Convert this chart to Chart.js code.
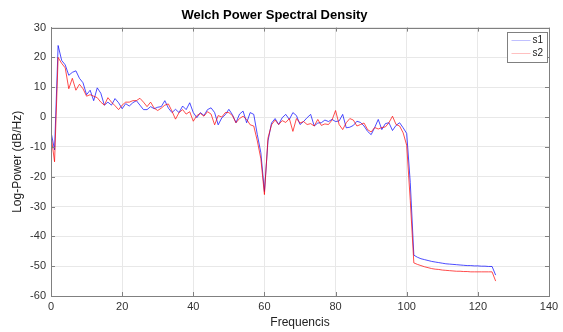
<!DOCTYPE html>
<html>
<head>
<meta charset="utf-8">
<script src="https://cdn.jsdelivr.net/npm/chart.js@4.4.0/dist/chart.umd.min.js"></script>
<style>
  html, body { margin: 0; padding: 0; background: #fff; }
  #wrap { width: 563px; height: 332px; }
</style>
</head>
<body>
<div id="wrap"><canvas id="mycanvas" width="563" height="332"></canvas></div>
<script>
// frequencies (Hz)
var freqs = [0,1,2,3,4,5,6,7,8,9,10,11,12,13,14,15,16,17,18,19,20,21,22,23,24,25,26,27,28,29,
  30,31,32,33,34,35,36,37,38,39,40,41,42,43,44,45,46,47,48,49,50,51,52,53,54,55,56,57,58,59,
  60,61,62,63,64,65,66,67,68,69,70,71,72,73,74,75,76,77,78,79,80,81,82,83,84,85,86,87,88,89,
  90,91,92,93,94,95,96,97,98,99,100,101,102,103,104,105,106,107,108,109,110,111,112,113,114,
  115,116,117,118,119,120,121,122,123,124,125];

// log-power in dB/Hz
var s1 = [-5,-11,24,19,17.5,14,15,15.5,13,11.5,7.5,9,5.5,9.8,8,4,5,4,6.2,4.8,
  2.8,4.5,3.7,4.8,5.5,4,2.5,2.5,3.5,2.8,3.3,3.5,5.5,3,1.5,2.6,1.5,3.7,2.5,4.8,
  1.5,-0.2,1.5,0.5,2.5,3.1,1.5,-2.6,-0.3,0.8,2.6,0.8,-1.9,1,2,-1.9,1.5,0.9,-5.9,-12,
  -25,-8,-2,-0.5,-2.5,-0.2,0.9,-0.8,1.5,0.5,-2.5,-1.5,-0.2,0.9,-3,-2,-1.9,-1,-1.5,-0.8,
  -1.5,-1.3,0.9,-3.6,-3.4,-2.8,-1.4,-1.8,-3,-4.8,-5.9,-3.5,-0.8,-4.2,-2.2,-1.9,-4.5,-2.8,-1.9,-3.6,
  -5.5,-22,-46.3,-47,-47.5,-47.8,-48.1,-48.4,-48.6,-48.8,-49,-49.2,-49.3,-49.4,-49.5,-49.6,-49.7,-49.8,-49.8,-49.9,
  -49.9,-50,-50,-50.1,-50.1,-53];

var s2 = [-6,-15,20,18,16.5,9.5,13,9,11,9.5,7,7.5,7,6.5,5,4,6.5,5,3.8,2.5,
  4,5,5,5.5,5.5,6.3,5,3.5,5,3,2.2,3,4,4.4,2,-0.7,1.5,2.5,1,1.8,
  -1.4,0.5,1.2,0.3,1.8,1,-2.6,0.5,0,1.5,1.5,0.5,-1.9,-0.5,0.3,-0.8,-2.6,-3,-8,-14,
  -26,-7,-2.6,-1,-2.5,-1.2,-1.8,-0.5,-4.8,-0.5,-2,-1.5,-2.5,-2.2,-3,-0.8,-2.8,-2.3,-2.5,-1,
  2.2,-2.5,-4.2,-1.9,-0.5,-1,-3,-2.5,-2,-4.2,-5,-3.5,-4,-3.5,-3.3,-1.9,0.3,-2.5,-3,-5.3,
  -9.5,-28,-48.9,-49.4,-49.8,-50.2,-50.5,-50.8,-51,-51.1,-51.3,-51.4,-51.5,-51.6,-51.7,-51.7,-51.8,-51.8,-51.9,-51.9,
  -51.9,-51.9,-51.9,-51.9,-51.9,-55];

var seriesNames = ['s1', 's2'];
var seriesColors = ['rgba(0,0,255,0.7)', 'rgba(255,0,0,0.7)'];

var axisGray = '#808080';

function toPoints(ys) {
  var pts = [];
  for (var i in ys) {
    pts.push({x: freqs[i], y: ys[i]});
  }
  return pts;
}

// box, inward ticks and legend like the matlab figure
var matlabBox = {
  id: 'matlabBox',
  afterDraw: function(chart) {
    var ctx = chart.ctx;
    var a = chart.chartArea;
    var xs = chart.scales.x, ys = chart.scales.y;
    ctx.save();
    ctx.strokeStyle = axisGray;
    ctx.lineWidth = 1;
    ctx.beginPath();
    ctx.rect(Math.round(a.left) + 0.5, Math.round(a.top) + 0.5,
      Math.round(a.right - a.left), Math.round(a.bottom - a.top));
    ctx.stroke();
    ctx.beginPath();
    xs.ticks.forEach(function(t) {
      var px = Math.round(xs.getPixelForValue(t.value)) + 0.5;
      ctx.moveTo(px, a.bottom); ctx.lineTo(px, a.bottom - 4);
      ctx.moveTo(px, a.top); ctx.lineTo(px, a.top + 4);
    });
    ys.ticks.forEach(function(t) {
      var py = Math.round(ys.getPixelForValue(t.value)) + 0.5;
      ctx.moveTo(a.left, py); ctx.lineTo(a.left + 4, py);
      ctx.moveTo(a.right, py); ctx.lineTo(a.right - 4, py);
    });
    ctx.stroke();

    // legend
    var w = 40, h = 30;
    var lx = Math.round(a.right - 2 - w) + 0.5, ly = Math.round(a.top + 4) + 0.5;
    ctx.fillStyle = '#fff';
    ctx.fillRect(lx, ly, w, h);
    ctx.strokeStyle = axisGray;
    ctx.strokeRect(lx, ly, w, h);
    ctx.font = '10px "Liberation Sans", Arial, sans-serif';
    ctx.textBaseline = 'middle';
    ctx.textAlign = 'left';
    for (var i = 0; i < seriesNames.length; i++) {
      var yy = ly + 8 + i * 13;
      ctx.strokeStyle = seriesColors[i];
      ctx.globalAlpha = 0.35;
      ctx.beginPath();
      ctx.moveTo(lx + 4, yy); ctx.lineTo(lx + 23, yy);
      ctx.stroke();
      ctx.globalAlpha = 1;
      ctx.fillStyle = '#1a1a1a';
      ctx.fillText(seriesNames[i], lx + 25, yy);
    }
    ctx.restore();
  }
};

var chartdata = {
  datasets: [
    {
      label: seriesNames[0],
      data: toPoints(s1),
      borderColor: seriesColors[0],
      borderWidth: 1,
      pointRadius: 0,
      tension: 0,
      order: 1
    },
    {
      label: seriesNames[1],
      data: toPoints(s2),
      borderColor: seriesColors[1],
      borderWidth: 1,
      pointRadius: 0,
      tension: 0,
      order: 0
    }
  ]
};

var tickFont = {family: '"Liberation Sans", Arial, sans-serif', size: 11};

var ctx = document.getElementById('mycanvas');
var graph = new Chart(ctx, {
  type: 'line',
  data: chartdata,
  plugins: [matlabBox],
  options: {
    responsive: false,
    animation: false,
    layout: {padding: {left: 0, right: 14, top: 2, bottom: 0}},
    plugins: {
      legend: {display: false},
      tooltip: {enabled: false},
      title: {
        display: true,
        text: 'Welch Power Spectral Density',
        color: '#000',
        font: {family: '"Liberation Sans", Arial, sans-serif', size: 13, weight: 'bold'},
        padding: {top: 6, bottom: 4}
      }
    },
    scales: {
      x: {
        type: 'linear',
        min: 0,
        max: 140,
        ticks: {stepSize: 20, color: '#333', font: tickFont, padding: 4, maxRotation: 0},
        grid: {color: '#e8e8e8', drawTicks: false},
        border: {display: true, color: axisGray},
        title: {display: true, text: 'Frequencis', color: '#222',
          font: {family: '"Liberation Sans", Arial, sans-serif', size: 12}, padding: {top: 2, bottom: 2}},
        afterFit: function(scale) { scale.height = 36; }
      },
      y: {
        min: -60,
        max: 30,
        ticks: {stepSize: 10, color: '#333', font: tickFont, padding: 5},
        grid: {color: '#e8e8e8', drawTicks: false},
        border: {display: true, color: axisGray},
        title: {display: true, text: 'Log-Power (dB/Hz)', color: '#222',
          font: {family: '"Liberation Sans", Arial, sans-serif', size: 12}, padding: {top: 10, bottom: 0}},
        afterFit: function(scale) { scale.width = 51; }
      }
    }
  }
});
</script>
</body>
</html>
